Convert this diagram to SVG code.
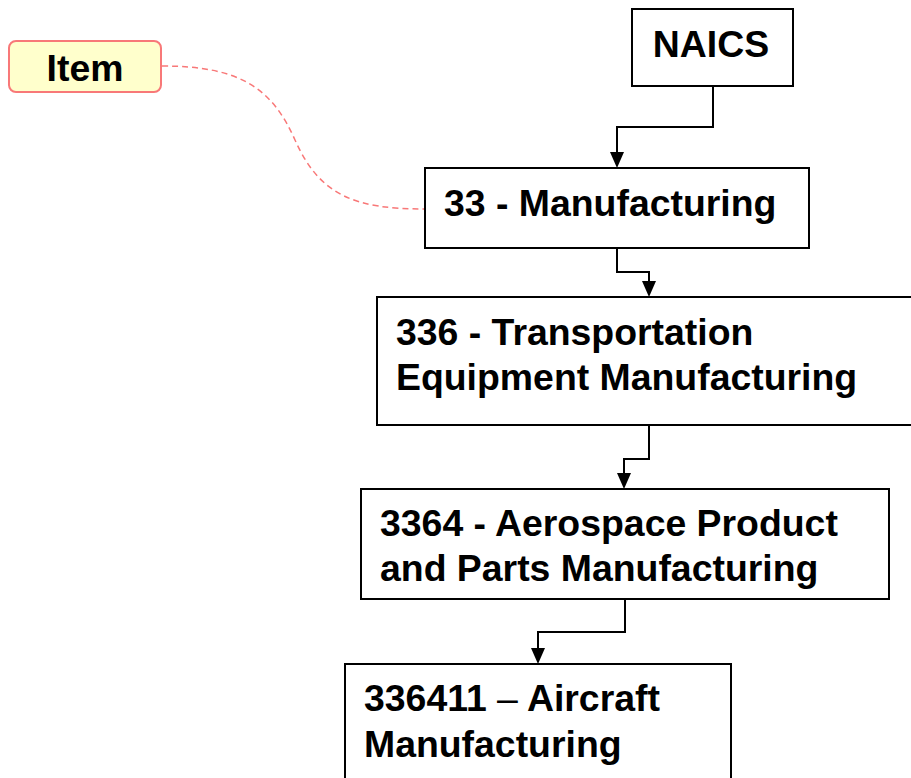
<svg xmlns="http://www.w3.org/2000/svg" width="911" height="778" viewBox="0 0 911 778">
<style>
.box{fill:#fff;stroke:#000;stroke-width:2}
.t{font-family:"Liberation Sans",Arial,sans-serif;font-weight:bold;font-size:37.4px;fill:#000}
.c{fill:none;stroke:#000;stroke-width:2}
.item{fill:#FFFFCC;stroke:#F87878;stroke-width:2}
.note{fill:none;stroke:#F87878;stroke-width:1.5;stroke-dasharray:6,4}
.ah{fill:#000}
</style>
<g id="connectors">
<path class="c" d="M713,86 V127 H617 V152" />
<path class="ah" d="M610,152 L624,152 L617,168 Z"/>
<path class="c" d="M617,248 V272 H649 V281" />
<path class="ah" d="M642,281 L656,281 L649,297 Z"/>
<path class="c" d="M649,425 V459 H624 V473" />
<path class="ah" d="M617,473 L631,473 L624,489 Z"/>
<path class="c" d="M625,599 V632 H538 V648" />
<path class="ah" d="M531,648 L545,648 L538,664 Z"/>
<path class="note" d="M162,66 C240,66 272,88 295,140 C320,196 355,209 425,209" />
</g>
<g id="item">
<rect class="item" x="9" y="41" width="152" height="51" rx="7"/>
<text class="t" x="85" y="81" text-anchor="middle">Item</text>
</g>
<g id="naics">
<rect class="box" x="632" y="9" width="161" height="77"/>
<text class="t" x="711" y="57" text-anchor="middle">NAICS</text>
</g>
<g id="n33">
<rect class="box" x="425" y="168" width="384" height="80"/>
<text class="t" x="444" y="216">33 - Manufacturing</text>
</g>
<g id="n336">
<rect class="box" x="377" y="297" width="540" height="128"/>
<text class="t" x="396" y="345">336 - Transportation</text>
<text class="t" x="396" y="390">Equipment Manufacturing</text>
</g>
<g id="n3364">
<rect class="box" x="361" y="489" width="528" height="110"/>
<text class="t" x="380" y="536">3364 - Aerospace Product</text>
<text class="t" x="380" y="581">and Parts Manufacturing</text>
</g>
<g id="n336411">
<rect class="box" x="345" y="664" width="386" height="130"/>
<text class="t" x="364" y="711">336411 <tspan font-weight="normal">–</tspan> Aircraft</text>
<text class="t" x="364" y="757">Manufacturing</text>
</g>
</svg>
